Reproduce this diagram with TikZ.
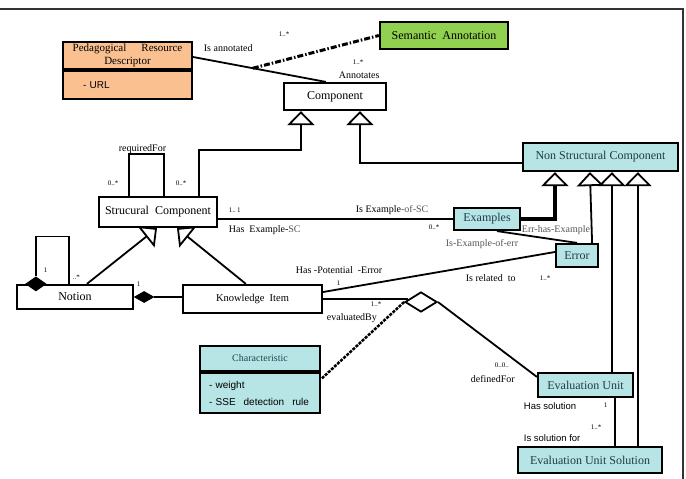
\documentclass[tikz,border=0pt]{standalone}
\usepackage{fontspec}
\setmainfont{Liberation Serif}
\setsansfont{Liberation Sans}
\usetikzlibrary{arrows.meta,shapes.geometric}
\definecolor{prdfill}{RGB}{250,192,144}
\definecolor{semfill}{RGB}{146,208,80}
\definecolor{clsfill}{RGB}{183,228,228}
\definecolor{clstext}{RGB}{30,60,72}
\definecolor{lblgray}{RGB}{85,85,85}

\begin{document}
\begin{tikzpicture}[x=1pt,y=-1pt,line width=1.8pt,
	cls/.style={draw,line width=2.2pt,inner sep=1pt,font=\fontsize{12}{14}\selectfont},
	gen/.style={-{Triangle[open,length=14pt,width=27pt]}},
	compo/.style={diamond,draw,fill=black,inner sep=0pt,line width=1pt},
	lbl/.style={anchor=west,inner sep=0pt,font=\fontsize{10}{12}\selectfont},
	mult/.style={anchor=west,inner sep=0pt,font=\fontsize{7}{8}\selectfont},
	sanslbl/.style={anchor=west,inner sep=0pt,font=\sffamily\fontsize{9.5}{11}\selectfont}]
	\useasboundingbox (0,0) rectangle (686,479);
	\draw[line width=2.5pt,black!80] (0,9) -| (683,479);
	% classes
	\node[cls,fill=semfill,minimum width=128pt,minimum height=27pt] (sa) at (444,35.5) {Semantic\enspace Annotation};
	\node[cls,fill=prdfill,minimum width=129pt,minimum height=27pt,align=center,font=\fontsize{11}{12.5}\selectfont] (prd) at (127.5,55.5) {Pedagogical\hspace{15pt}Resource\\Descriptor};
	\node[cls,fill=prdfill,minimum width=129pt,minimum height=28pt,anchor=north,text width=89pt,inner xsep=20pt,align=left,font=\sffamily\fontsize{10}{12}\selectfont] (prdattr) at (prd.south) {- URL};
	\node[cls,minimum width=102pt,minimum height=27pt] (comp) at (335,96.5) {Component};
	\node[cls,fill=clsfill,text=clstext,minimum width=155pt,minimum height=28pt] (nsc) at (600.5,157) {Non Structural Component};
	\node[cls,minimum width=118pt,minimum height=30pt] (sc) at (158,212) {Strucural\enspace Component};
	\node[cls,minimum width=116pt,minimum height=24pt] (notion) at (75,297) {Notion};
	\node[cls,minimum width=139pt,minimum height=28pt,font=\fontsize{10.5}{12}\selectfont] (ki) at (252.5,299) {Knowledge\enspace Item};
	\node[cls,fill=clsfill,text=clstext,minimum width=66pt,minimum height=22pt] (exa) at (487,219) {Examples};
	\node[cls,fill=clsfill,text=clstext,minimum width=42pt,minimum height=23pt] (err) at (577,255.5) {Error};
	\node[cls,fill=clsfill,text=clstext,minimum width=95pt,minimum height=24pt] (eu) at (585.5,385) {Evaluation Unit};
	\node[cls,fill=clsfill,text=clstext,minimum width=144pt,minimum height=26pt] (eus) at (590,460) {Evaluation Unit Solution};
	\node[cls,fill=clsfill,text=clstext!80!teal,minimum width=120pt,minimum height=25pt,font=\fontsize{10}{12}\selectfont] (chr) at (260,358.5) {Characteristic};
	\node[cls,fill=clsfill,minimum width=120pt,minimum height=40pt,anchor=north,text width=102pt,inner xsep=9pt,align=left,font=\sffamily\fontsize{10}{17}\selectfont] (chrattr) at (chr.south) {- weight\\- SSE\hspace{8pt}detection\hspace{8pt}rule};
	\node[diamond,draw,fill=white,minimum width=32pt,minimum height=20pt,inner sep=0pt] (evdia) at (421,302) {};
	% associations
	\draw ([yshift=-1.5pt]prd.east) -- coordinate[pos=.45] (annot) ([xshift=43pt]comp.north west);
	\draw[line width=3pt,dash pattern=on 6pt off 2pt on 1.5pt off 2pt] (annot) -- (sa.west);
	\draw[gen] ([xshift=101pt]sc.north west) -- ++(0,-46) -| ([xshift=18pt]comp.south west);
	\draw[gen] ([yshift=-6pt]nsc.west) -| ([xshift=77pt]comp.south west);
	\draw ([xshift=31pt]sc.north west) -- ++(0,-42) -| ([xshift=66pt]sc.north west);
	\node[compo,minimum width=20pt,minimum height=14pt] (notdia) at ([xshift=20pt]notion.north west) {};
	\draw (notdia.north) -- ++(0,-40) -| ([xshift=53pt]notion.north west);
	\node[compo,minimum width=19pt,minimum height=11pt,anchor=west] (kidia) at (notion.east) {};
	\draw (kidia.east) -- (kidia.east -| ki.west);
	\draw[gen] ([xshift=71pt]notion.north west) -- ([xshift=-1pt]sc.south);
	\draw[gen] ([xshift=64pt]ki.north west) -- ([xshift=19pt]sc.south);
	\draw (exa.west -| sc.east) -- (exa.west);
	\coordinate (exabase) at ([xshift=33pt,yshift=-14pt]nsc.south west);
	\draw[line width=3.5pt] (exa.east) -| (exabase);
	\draw[gen] (exabase) -- ([xshift=33pt]nsc.south west);
	\draw ([xshift=10pt]exa.south) -- (err.north);
	\draw[gen] ([xshift=-7pt]err.north east) -- ([xshift=68pt]nsc.south west);
	\draw ([yshift=7pt]ki.east) -- ([yshift=3.5pt]err.west);
	\draw (ki.east) -- ([xshift=4pt]evdia.west |- ki.east);
	\draw (evdia.east) -- ([yshift=-5pt]eu.north west);
	\draw[line width=2.5pt,dash pattern=on 3pt off 1.2pt] (evdia.west) -- ([yshift=-7pt]chrattr.north east);
	\draw[gen] ([xshift=75pt]eu.north west) -- ([xshift=90pt]nsc.south west);
	\draw[gen] ([xshift=121pt]eus.north west) -- ([xshift=116pt]nsc.south west);
	\draw ([xshift=78pt]eu.south west) -- ([xshift=98pt]eus.north west);
	% labels
	\node[lbl] (lisann) at (203,48) {Is annotated};
	\node[mult] (mann1) at (278,34) {1..*};
	\node[mult] (mann2) at (352,62) {1..*};
	\node[lbl] (lann) at (338,75) {Annotates};
	\node[lbl] (lreq) at (118,149) {requiredFor};
	\node[mult] (mreq1) at (107,183) {0..*};
	\node[mult] (mreq2) at (175,183) {0..*};
	\node[mult] (msc) at (228,210) {1..\,1};
	\node[lbl] (lhasex) at (228,230) {Has\enspace Example-\textcolor{lblgray}{SC}};
	\node[lbl] (lisex) at (355,210) {Is Example\textcolor{lblgray}{-of-SC}};
	\node[mult] (mex) at (428,227) {0..*};
	\node[lbl,text=lblgray] (lerrex) at (521,230) {Err-has-Example};
	\node[lbl,text=lblgray] (lexerr) at (445,244) {Is-Example-of-err};
	\node[mult] (mnot1) at (43,270) {1};
	\node[mult] (mnot2) at (72,277) {..*};
	\node[mult] (mki) at (136,284) {1};
	\node[lbl] (lpot) at (295,270) {Has -Potential\enspace -Error};
	\node[mult] (mpot) at (336,283) {1};
	\node[lbl] (lrel) at (465,278) {Is related\enspace to};
	\node[mult] (mrel) at (539,278) {1..*};
	\node[mult] (mev) at (370,304) {1..*};
	\node[lbl] (lev) at (326,318) {evaluatedBy};
	\node[mult] (mdef) at (494,365) {0..0..};
	\node[lbl] (ldef) at (470,379) {definedFor};
	\node[sanslbl] (lhassol) at (523,406) {Has solution};
	\node[mult] (msol1) at (603,405) {1};
	\node[mult] (msol2) at (590,427) {1..*};
	\node[sanslbl] (lissol) at (523,438) {Is solution for};
\end{tikzpicture}
\end{document}
